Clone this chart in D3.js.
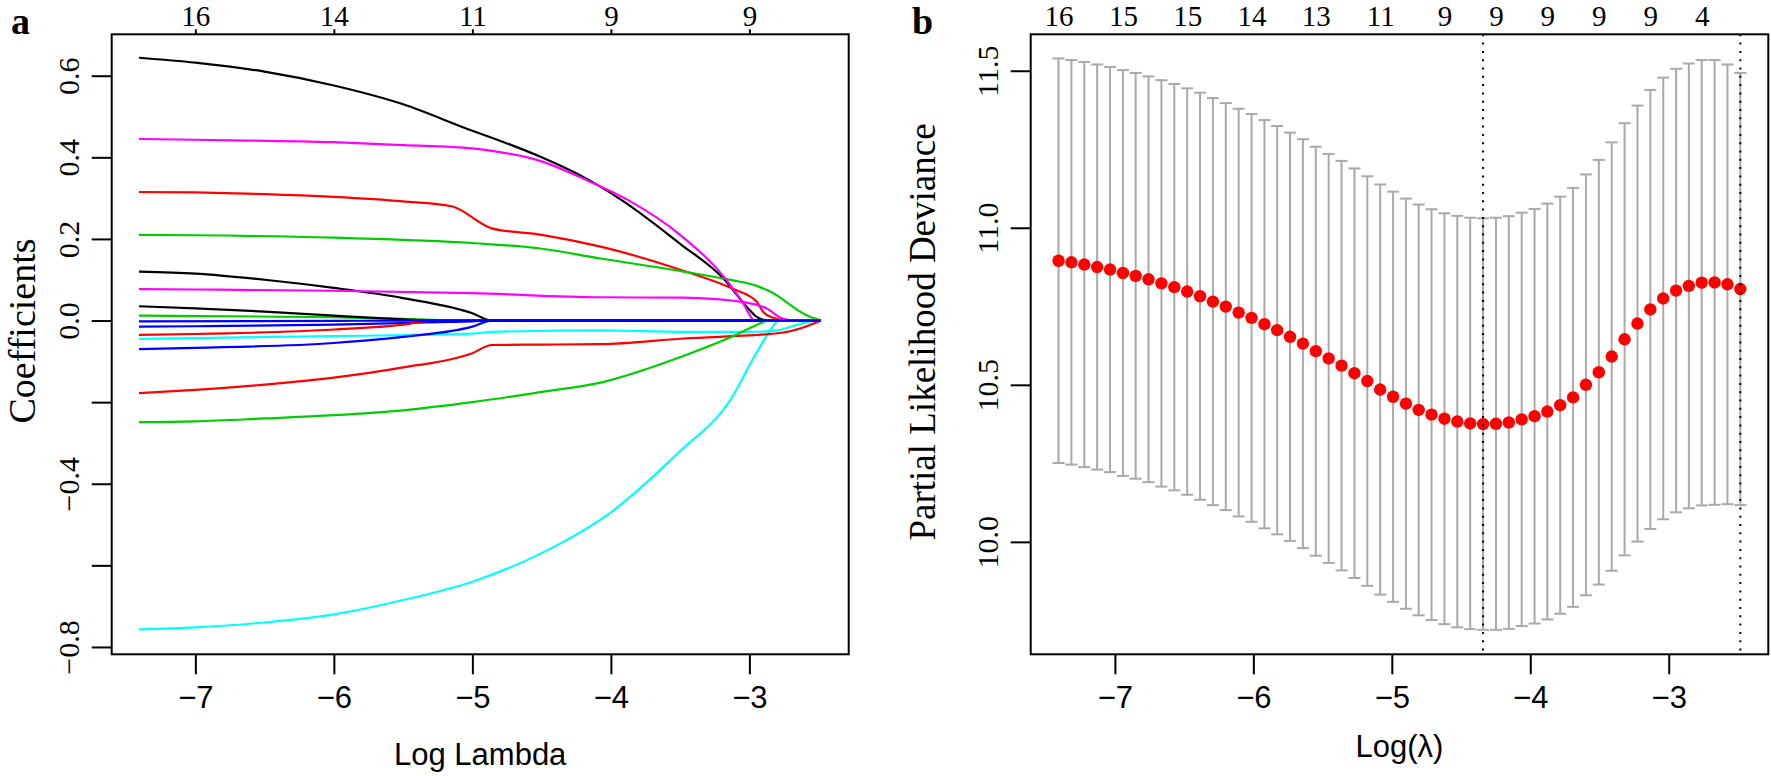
<!DOCTYPE html>
<html><head><meta charset="utf-8">
<script src="https://cdn.jsdelivr.net/npm/d3@7"></script>
<style>body{margin:0;background:#fff}svg{display:block}</style>
</head><body><svg id="c" width="1771" height="776"></svg>
<script>
// ---------------- DATA ----------------
const xTicks = [-7, -6, -5, -4, -3];
const xTickLabels = ["\u22127", "\u22126", "\u22125", "\u22124", "\u22123"];
const topLabelsA = ["16", "14", "11", "9", "9"];
const coefTicks = [0.6, 0.4, 0.2, 0.0, -0.2, -0.4, -0.6, -0.8];
const coefTickLabels = ["0.6", "0.4", "0.2", "0.0", "", "\u22120.4", "", "\u22120.8"];
const devTicks = [11.5, 11.0, 10.5, 10.0];
const devTickLabels = ["11.5", "11.0", "10.5", "10.0"];
const topTicksB = [-7.407, -6.942, -6.478, -6.013, -5.549, -5.084, -4.620, -4.248, -3.877, -3.505, -3.133, -2.762];
const topLabelsB = ["16", "15", "15", "14", "13", "11", "9", "9", "9", "9", "9", "4"];
const lambdaMinLog = -4.341;
const lambda1seLog = -2.483;

// coefficient paths: [log lambda, coefficient]
const pathBlack1 = [[-7.407,0.644],[-7,0.632],[-6.5,0.61],[-6,0.576],[-5.5,0.53],[-5,0.465],[-4.86,0.448],[-4.5,0.4],[-4.2,0.352],[-3.922,0.295],[-3.5,0.188],[-3.176,0.099],[-3.02,0.034],[-2.947,0.009],[-2.866,0],[-2.483,0]];
const pathRed1 = [[-7.407,0.315],[-7,0.314],[-6.5,0.31],[-6,0.303],[-5.5,0.292],[-5.15,0.28],[-4.86,0.226],[-4.5,0.21],[-4.074,0.181],[-3.477,0.122],[-3.128,0.079],[-2.947,0.046],[-2.9,0.021],[-2.839,0.008],[-2.73,0],[-2.483,0]];
const pathGreen1 = [[-7.407,0.21],[-7,0.209],[-6,0.203],[-5,0.19],[-4.5,0.176],[-4.074,0.152],[-3.477,0.12],[-3.128,0.099],[-2.947,0.085],[-2.85,0.071],[-2.587,0.013],[-2.483,0]];
const pathBlue1 = [[-7.407,-0.015],[-7,-0.014],[-6,-0.01],[-5.5,-0.006],[-5,-0.002],[-4.86,0],[-2.483,0]];
const pathCyan1 = [[-7.407,-0.045],[-7,-0.043],[-6,-0.038],[-5,-0.032],[-4.86,-0.028],[-4.074,-0.024],[-3.477,-0.028],[-3.0,-0.028],[-2.8,-0.024],[-2.65,-0.01],[-2.52,0],[-2.483,0]];
const pathMagenta1 = [[-7.407,0.445],[-7,0.443],[-6,0.437],[-5.5,0.43],[-5,0.422],[-4.86,0.416],[-4.5,0.39],[-4.2,0.348],[-3.875,0.295],[-3.5,0.21],[-3.164,0.099],[-3.05,0.045],[-2.96,0],[-2.483,0]];
const pathBlack2 = [[-7.407,0.12],[-7,0.115],[-6.5,0.1],[-6,0.08],[-5.5,0.055],[-5,0.018],[-4.86,0],[-2.483,0]];
const pathRed2 = [[-7.407,-0.035],[-7,-0.033],[-6,-0.022],[-5.5,-0.01],[-5.3,0],[-2.483,0]];
const pathGreen2 = [[-7.407,0.012],[-7,0.011],[-6,0.008],[-5.5,0.004],[-5,0],[-2.483,0]];
const pathBlue2 = [[-7.407,-0.07],[-7,-0.067],[-6,-0.055],[-5.5,-0.04],[-5,-0.015],[-4.86,0],[-2.483,0]];
const pathCyan2 = [[-7.407,-0.757],[-7,-0.752],[-6.5,-0.74],[-6,-0.72],[-5.5,-0.685],[-5,-0.64],[-4.5,-0.57],[-4,-0.47],[-3.5,-0.32],[-3.138,-0.195],[-2.95,-0.08],[-2.812,-0.007],[-2.79,0],[-2.483,0]];
const pathMagenta2 = [[-7.407,0.077],[-7,0.076],[-6,0.073],[-5,0.067],[-4.074,0.057],[-3.477,0.056],[-3.02,0.044],[-2.866,0.028],[-2.77,0.006],[-2.683,0],[-2.483,0]];
const pathBlack3 = [[-7.407,0.035],[-7,0.03],[-6.5,0.022],[-6,0.012],[-5.5,0.003],[-5.3,0],[-2.483,0]];
const pathRed3 = [[-7.407,-0.178],[-7,-0.17],[-6.5,-0.157],[-6,-0.14],[-5.5,-0.115],[-5,-0.08],[-4.86,-0.06],[-4.5,-0.059],[-4.074,-0.058],[-3.477,-0.044],[-2.767,-0.03],[-2.628,-0.019],[-2.483,0]];
const pathGreen3 = [[-7.407,-0.249],[-7,-0.247],[-6.5,-0.24],[-6,-0.232],[-5.5,-0.22],[-5,-0.2],[-4.5,-0.175],[-4.074,-0.152],[-3.477,-0.087],[-3.128,-0.04],[-2.947,-0.011],[-2.866,0],[-2.483,0]];
const pathBlue3 = [[-7.407,-0.002],[-6,-0.001],[-5.5,0],[-2.483,0]];

// cross-validation curve
const cvLogLambda = [-7.407,-7.314,-7.221,-7.128,-7.035,-6.942,-6.850,-6.757,-6.664,-6.571,
  -6.478,-6.385,-6.292,-6.199,-6.106,-6.013,-5.920,-5.828,-5.735,-5.642,
  -5.549,-5.456,-5.363,-5.270,-5.177,-5.084,-4.991,-4.898,-4.806,-4.713,
  -4.620,-4.527,-4.434,-4.341,-4.248,-4.155,-4.062,-3.969,-3.877,-3.784,
  -3.691,-3.598,-3.505,-3.412,-3.319,-3.226,-3.133,-3.040,-2.947,-2.855,
  -2.762,-2.669,-2.576,-2.483];
const cvMean = [10.895,10.890,10.883,10.875,10.867,10.856,10.847,10.836,10.823,10.811,
  10.797,10.782,10.765,10.749,10.730,10.713,10.693,10.674,10.653,10.631,
  10.607,10.584,10.561,10.537,10.512,10.485,10.462,10.440,10.420,10.405,
  10.392,10.383,10.377,10.375,10.376,10.380,10.390,10.400,10.415,10.435,
  10.460,10.500,10.540,10.590,10.645,10.695,10.740,10.775,10.800,10.815,
  10.825,10.826,10.820,10.805];
const cvSd = [0.644,0.644,0.645,0.645,0.645,0.646,0.646,0.646,0.647,0.647,
  0.647,0.648,0.648,0.648,0.649,0.649,0.650,0.650,0.650,0.651,
  0.651,0.651,0.652,0.652,0.652,0.653,0.653,0.653,0.654,0.654,
  0.654,0.655,0.655,0.655,0.656,0.657,0.658,0.660,0.662,0.664,
  0.667,0.670,0.676,0.682,0.688,0.694,0.699,0.703,0.706,0.708,
  0.709,0.708,0.700,0.688];

// ---------------- DRAW ----------------
const SERIF = "'Liberation Serif','Times New Roman',serif";
const SANS = "'Liberation Sans',Arial,sans-serif";
const svg = d3.select("#c");
svg.append("rect").attr("width",1771).attr("height",776).attr("fill","#fff");

const A = {left:111.7, right:848.7, top:34.3, bottom:654.3};
const B = {left:1030.7, right:1768.3, top:34.3, bottom:654.3};

const xA = d3.scaleLinear().domain([-7.604,-2.283]).range([A.left,A.right]);
const yA = d3.scaleLinear().domain([-0.818,0.7015]).range([A.bottom,A.top]);
const xB = d3.scaleLinear().domain([-7.608,-2.281]).range([B.left,B.right]);
const yB = d3.scaleLinear().domain([9.642,11.616]).range([B.bottom,B.top]);

function styleAxis(g){
  g.select(".domain").remove();
  g.selectAll(".tick line").attr("stroke","#000").attr("stroke-width",2);
}

// ===== Panel a =====
const pa = svg.append("g");
const paths = [
  {c:"#000000", d:pathBlack1},{c:"#FF0000", d:pathRed1},{c:"#00CD00", d:pathGreen1},{c:"#0000FF", d:pathBlue1},
  {c:"#00FFFF", d:pathCyan1},{c:"#FF00FF", d:pathMagenta1},{c:"#000000", d:pathBlack2},{c:"#FF0000", d:pathRed2},
  {c:"#00CD00", d:pathGreen2},{c:"#0000FF", d:pathBlue2},{c:"#00FFFF", d:pathCyan2},{c:"#FF00FF", d:pathMagenta2},
  {c:"#000000", d:pathBlack3},{c:"#FF0000", d:pathRed3},{c:"#00CD00", d:pathGreen3},{c:"#0000FF", d:pathBlue3}
];
const line = d3.line().x(d=>xA(d[0])).y(d=>yA(d[1])).curve(d3.curveMonotoneX);
pa.selectAll("path.coef").data(paths).join("path").attr("class","coef")
  .attr("d",p=>line(p.d)).attr("fill","none").attr("stroke",p=>p.c).attr("stroke-width",2.2);

pa.append("rect").attr("x",A.left).attr("y",A.top).attr("width",A.right-A.left).attr("height",A.bottom-A.top)
  .attr("fill","none").attr("stroke","#000").attr("stroke-width",2);

const axA_b = pa.append("g").attr("transform",`translate(0,${A.bottom})`)
  .call(d3.axisBottom(xA).tickValues(xTicks).tickSize(20).tickFormat((d,i)=>xTickLabels[i]));
styleAxis(axA_b);
axA_b.selectAll("text").attr("y",53.7).attr("dy",0).style("font-family",SANS).style("font-size","31px").attr("fill","#000");

const axA_t = pa.append("g").attr("transform",`translate(0,${A.top})`)
  .call(d3.axisTop(xA).tickValues(xTicks).tickSize(5).tickFormat((d,i)=>topLabelsA[i]));
styleAxis(axA_t);
axA_t.selectAll("text").attr("y",-8.3).attr("dy",0).style("font-family",SERIF).style("font-size","29px").attr("fill","#000");

const axA_l = pa.append("g").attr("transform",`translate(${A.left},0)`)
  .call(d3.axisLeft(yA).tickValues(coefTicks).tickSize(20).tickFormat((d,i)=>coefTickLabels[i]));
styleAxis(axA_l);
axA_l.selectAll("text").attr("transform","rotate(-90)").attr("x",0).attr("y",-32.7).attr("dy",0)
  .attr("text-anchor","middle").style("font-family",SERIF).style("font-size","30px").attr("fill","#000");

pa.append("text").attr("x",(A.left+A.right)/2).attr("y",765).attr("text-anchor","middle")
  .style("font-family",SANS).style("font-size","31px").text("Log Lambda");
pa.append("text").attr("transform",`translate(35,331) rotate(-90)`).attr("text-anchor","middle")
  .style("font-family",SERIF).style("font-size","38px").text("Coefficients");
pa.append("text").attr("x",11).attr("y",34).style("font-family",SERIF).style("font-weight","bold")
  .style("font-size","38px").text("a");

// ===== Panel b =====
const pb = svg.append("g");
const cv = cvLogLambda.map((x,i)=>({x, m:cvMean[i], s:cvSd[i]}));

pb.selectAll("line.eb").data(cv).join("line").attr("class","eb")
  .attr("x1",d=>xB(d.x)).attr("x2",d=>xB(d.x)).attr("y1",d=>yB(d.m+d.s)).attr("y2",d=>yB(d.m-d.s))
  .attr("stroke","#A9A9A9").attr("stroke-width",2);
pb.selectAll("line.capu").data(cv).join("line").attr("class","capu")
  .attr("x1",d=>xB(d.x)-6).attr("x2",d=>xB(d.x)+6).attr("y1",d=>yB(d.m+d.s)).attr("y2",d=>yB(d.m+d.s))
  .attr("stroke","#A9A9A9").attr("stroke-width",2);
pb.selectAll("line.capl").data(cv).join("line").attr("class","capl")
  .attr("x1",d=>xB(d.x)-6).attr("x2",d=>xB(d.x)+6).attr("y1",d=>yB(d.m-d.s)).attr("y2",d=>yB(d.m-d.s))
  .attr("stroke","#A9A9A9").attr("stroke-width",2);
pb.selectAll("circle.pt").data(cv).join("circle").attr("class","pt")
  .attr("cx",d=>xB(d.x)).attr("cy",d=>yB(d.m)).attr("r",6.2).attr("fill","#FF0000");

pb.selectAll("line.vl").data([lambdaMinLog, lambda1seLog]).join("line").attr("class","vl")
  .attr("x1",d=>xB(d)).attr("x2",d=>xB(d)).attr("y1",B.top).attr("y2",B.bottom)
  .attr("stroke","#000").attr("stroke-width",2).attr("stroke-dasharray","2,6.3");

pb.append("rect").attr("x",B.left).attr("y",B.top).attr("width",B.right-B.left).attr("height",B.bottom-B.top)
  .attr("fill","none").attr("stroke","#000").attr("stroke-width",2);

const axB_b = pb.append("g").attr("transform",`translate(0,${B.bottom})`)
  .call(d3.axisBottom(xB).tickValues(xTicks).tickSize(20).tickFormat((d,i)=>xTickLabels[i]));
styleAxis(axB_b);
axB_b.selectAll("text").attr("y",53.7).attr("dy",0).style("font-family",SANS).style("font-size","31px").attr("fill","#000");

const axB_t = pb.append("g").attr("transform",`translate(0,${B.top})`)
  .call(d3.axisTop(xB).tickValues(topTicksB).tickSize(0).tickFormat((d,i)=>topLabelsB[i]));
styleAxis(axB_t);
axB_t.selectAll("text").attr("y",-8.3).attr("dy",0).style("font-family",SERIF).style("font-size","29px").attr("fill","#000");

const axB_l = pb.append("g").attr("transform",`translate(${B.left},0)`)
  .call(d3.axisLeft(yB).tickValues(devTicks).tickSize(20).tickFormat((d,i)=>devTickLabels[i]));
styleAxis(axB_l);
axB_l.selectAll("text").attr("transform","rotate(-90)").attr("x",0).attr("y",-32.7).attr("dy",0)
  .attr("text-anchor","middle").style("font-family",SERIF).style("font-size","30px").attr("fill","#000");

pb.append("text").attr("x",(B.left+B.right)/2).attr("y",757).attr("text-anchor","middle")
  .style("font-family",SANS).style("font-size","31px").text("Log(\u03BB)");
pb.append("text").attr("transform",`translate(935,332) rotate(-90)`).attr("text-anchor","middle")
  .style("font-family",SERIF).style("font-size","37px").text("Partial Likelihood Deviance");
pb.append("text").attr("x",912).attr("y",34).style("font-family",SERIF).style("font-weight","bold")
  .style("font-size","38px").text("b");
</script></body></html>
